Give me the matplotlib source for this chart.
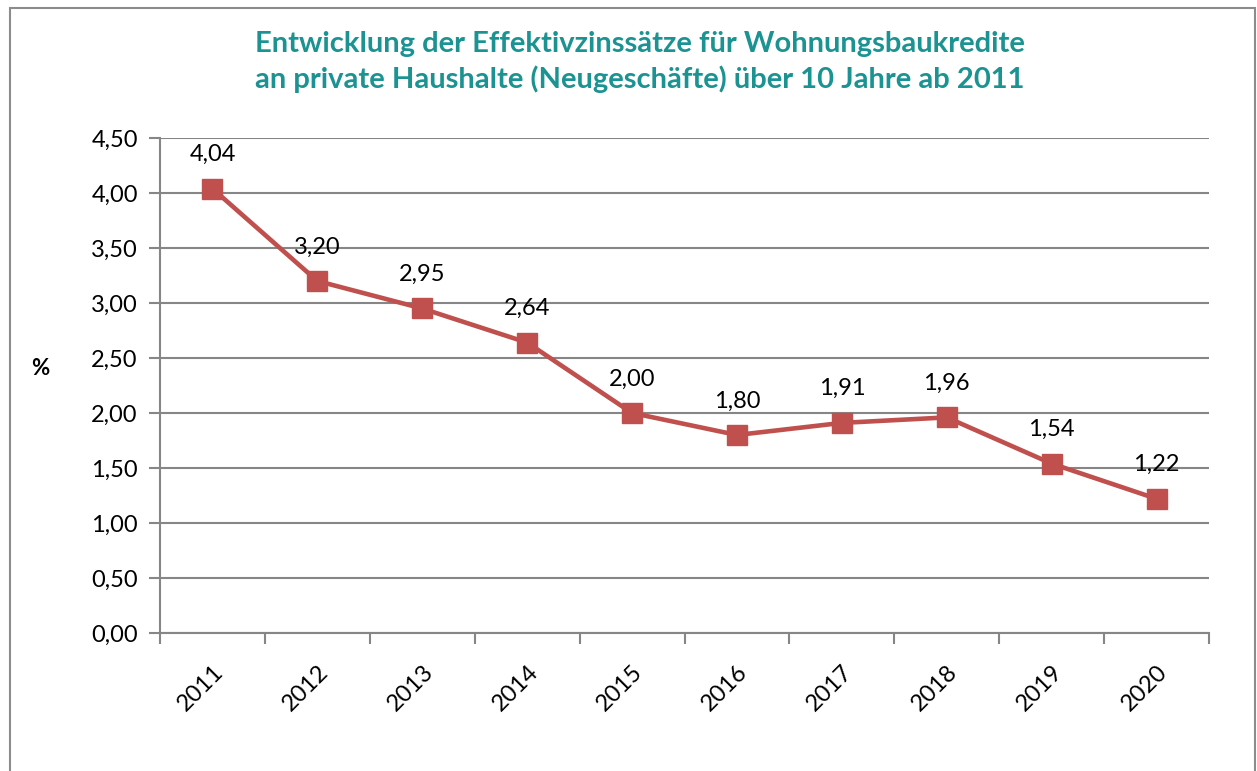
import matplotlib.pyplot as plt
from matplotlib.patches import Rectangle

# ---------- Données ----------
annees = ["2011", "2012", "2013", "2014", "2015", "2016", "2017", "2018", "2019", "2020"]
taux = [4.04, 3.20, 2.95, 2.64, 2.00, 1.80, 1.91, 1.96, 1.54, 1.22]
y_ticks = [0.0, 0.5, 1.0, 1.5, 2.0, 2.5, 3.0, 3.5, 4.0, 4.5]

titre = ("Entwicklung der Effektivzinssätze für Wohnungsbaukredite\n"
         "an private Haushalte (Neugeschäfte) über 10 Jahre ab 2011")

# ---------- Styles ----------
plt.rcParams["font.family"] = ["Lato", "DejaVu Sans"]
col_ligne = "#c0504d"
col_grille = "#868686"
col_titre = "#1b9392"
taille = 17


def fmt(v):
    return f"{v:.2f}".replace(".", ",")


fig = plt.figure(figsize=(12.57, 7.71), dpi=100)
ax = fig.add_axes([160 / 1257, 1 - 633 / 771, (1209 - 160) / 1257, (633 - 138) / 771])

# cadre autour du graphique (bas coupé)
fig.add_artist(Rectangle((10 / 1257, -0.05), (1255 - 10) / 1257, 1.05 - 8 / 771,
                         transform=fig.transFigure, fill=False,
                         edgecolor="#8c8c8c", linewidth=1.5))

x = list(range(len(annees)))
ax.plot(x, taux, color=col_ligne, linewidth=3.3, marker="s", markersize=14,
        markerfacecolor=col_ligne, markeredgecolor=col_ligne, zorder=3)

for xi, v in zip(x, taux):
    ax.annotate(fmt(v), (xi, v), xytext=(0, 17), textcoords="offset points",
                ha="center", va="bottom", fontsize=taille)

ax.set_xlim(-0.5, len(annees) - 0.5)
ax.set_ylim(0, 4.5)
ax.set_yticks(y_ticks)
ax.set_yticklabels([fmt(v) for v in y_ticks], fontsize=taille)
ax.yaxis.grid(True, color=col_grille, linewidth=1.5)
ax.set_axisbelow(True)

# ticks x entre les catégories
ax.set_xticks([i - 0.5 for i in range(len(annees) + 1)])
ax.set_xticklabels([])
ax.set_xticks(x, minor=True)
ax.set_xticklabels(annees, minor=True, rotation=45, ha="right", rotation_mode="anchor",
                   fontsize=taille)
ax.tick_params(axis="x", which="major", length=8, width=1.5, color=col_grille)
ax.tick_params(axis="x", which="minor", length=0, pad=20)
ax.tick_params(axis="y", length=8, width=1.5, color=col_grille, pad=8)

for s in ["top", "right"]:
    ax.spines[s].set_visible(False)
for s in ["left", "bottom"]:
    ax.spines[s].set_color(col_grille)
    ax.spines[s].set_linewidth(1.5)

fig.text(40 / 1257, 1 - 368 / 771, "%", fontsize=taille - 1, fontweight="bold",
         ha="center", va="center")
fig.text(640 / 1257, 1 - 62 / 771, titre, fontsize=21, fontweight="bold",
         color=col_titre, ha="center", va="center", linespacing=1.35)

fig.savefig("out.png", dpi=100)
plt.close(fig)
